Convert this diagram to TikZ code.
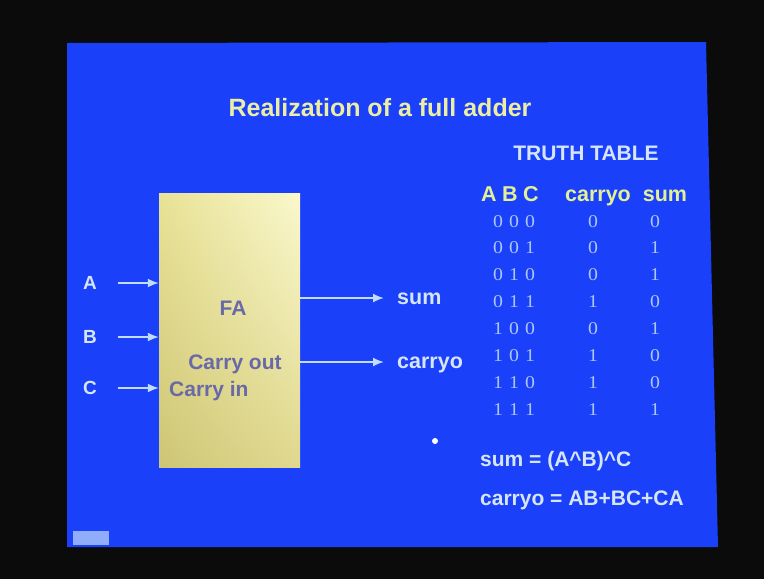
\documentclass[tikz,border=0pt]{standalone}
\usepackage{fontspec}
\newfontfamily\slidesans{Liberation Sans}
\newfontfamily\slideserif{Liberation Serif}[FakeStretch=1.1]
\usetikzlibrary{arrows.meta,shadings}

\definecolor{framebk}{RGB}{11,11,11}
\definecolor{slideblue}{RGB}{26,64,250}
\definecolor{titleyellow}{RGB}{236,238,165}
\definecolor{lightlbl}{RGB}{214,230,250}
\definecolor{headyellow}{RGB}{226,240,150}
\definecolor{digitblue}{RGB}{170,200,245}
\definecolor{boxtext}{RGB}{105,105,168}
\definecolor{arrowblue}{RGB}{195,220,252}
\definecolor{boxUR}{RGB}{250,248,205}
\definecolor{boxUL}{RGB}{232,226,150}
\definecolor{boxLL}{RGB}{206,198,118}
\definecolor{boxLR}{RGB}{224,216,142}

\tikzset{
  txt/.style={inner sep=0pt, anchor=base, font=\slidesans\bfseries},
  lbl/.style={txt, text=lightlbl, font=\slidesans\bfseries\fontsize{19}{22}\selectfont},
  outlbl/.style={txt, anchor=base west, text=lightlbl, font=\slidesans\bfseries\fontsize{21.5}{25}\selectfont},
  head/.style={txt, text=headyellow, font=\slidesans\bfseries\fontsize{21.5}{25}\selectfont},
  digit/.style={inner sep=0pt, anchor=base, text=digitblue, font=\slideserif\fontsize{18}{21}\selectfont},
  inbox/.style={txt, text=boxtext, font=\slidesans\bfseries\fontsize{21}{25}\selectfont},
  eqn/.style={txt, anchor=base west, text=lightlbl, font=\slidesans\bfseries\fontsize{21}{25}\selectfont},
  arr/.style={draw=arrowblue, line width=1.8pt, -{Latex[length=11pt,width=9pt]}},
  fabox/.style={minimum width=141pt, minimum height=274pt, inner sep=0pt,
    upper right=boxUR, upper left=boxUL, lower left=boxLL, lower right=boxLR}
}

\begin{document}
\begin{tikzpicture}[x=1pt,y=-1pt]
  % black surround and the blue slide
  \fill[framebk] (0,0) rectangle (764,579);
  \useasboundingbox (0,0) rectangle (764,579);
  \fill[slideblue] (67,43) -- (706,42) -- (718,547) -- (67,547) -- cycle;

  % title
  \node[txt, text=titleyellow, font=\slidesans\bfseries\fontsize{25}{30}\selectfont]
    (title) at (380,116) {Realization of a full adder};

  % full adder block
  \node[fabox] (fa) at (229.5,330) {};
  \node[inbox] (fatxt) at (233,315.5) {FA};
  \node[inbox] (cout) at (235,369.5) {Carry out};
  \node[inbox, anchor=base west] (cin) at (169,396.5) {Carry in};

  % inputs
  \node[lbl] (a) at (90,289.8) {A};
  \node[lbl] (b) at (90,343.8) {B};
  \node[lbl] (c) at (90,394.8) {C};
  \coordinate (ai) at (118,283);
  \coordinate (bi) at (118,337);
  \coordinate (ci) at (118,388);
  \draw[arr] (ai) -- (fa.west |- ai);
  \draw[arr] (bi) -- (fa.west |- bi);
  \draw[arr] (ci) -- (fa.west |- ci);

  % outputs
  \node[outlbl] (sum) at (397,304) {sum};
  \node[outlbl] (carry) at (397,368.5) {carryo};
  \coordinate (so) at (384,298);
  \coordinate (co) at (384,362);
  \draw[arr] (fa.east |- so) -- (so);
  \draw[arr] (fa.east |- co) -- (co);

  % truth table
  \node[txt, text=lightlbl, font=\slidesans\bfseries\fontsize{21}{25}\selectfont]
    (tt) at (586,160.5) {TRUTH TABLE};
  \node[head] (ha) at (489,201.5) {A};
  \node[head] (hb) at (510,201.5) {B};
  \node[head] (hc) at (531,201.5) {C};
  \node[head] (hcarry) at (598,201.5) {carryo};
  \node[head] (hsum) at (665,201.5) {sum};

  \foreach \i/\a/\b/\c/\co/\s in {0/0/0/0/0/0, 1/0/0/1/0/1, 2/0/1/0/0/1, 3/0/1/1/1/0,
                                   4/1/0/0/0/1, 5/1/0/1/1/0, 6/1/1/0/1/0, 7/1/1/1/1/1}{
    \pgfmathsetmacro{\yy}{227+26.9*\i}
    \node[digit] (ra\i) at (498,\yy) {\a};
    \node[digit] (rb\i) at (514,\yy) {\b};
    \node[digit] (rc\i) at (530,\yy) {\c};
    \node[digit] (rco\i) at (593,\yy) {\co};
    \node[digit] (rs\i) at (655,\yy) {\s};
  }

  % equations
  \node[eqn] (eqsum) at (480,466) {sum = (A\^{}B)\^{}C};
  \node[eqn] (eqcarry) at (480,505) {carryo = AB+BC+CA};

  % pointer dot and slide-corner icon
  \fill[white] (435,441) circle (3pt);
  \fill[arrowblue!70!slideblue] (73,531) rectangle (109,545);
\end{tikzpicture}
\end{document}
